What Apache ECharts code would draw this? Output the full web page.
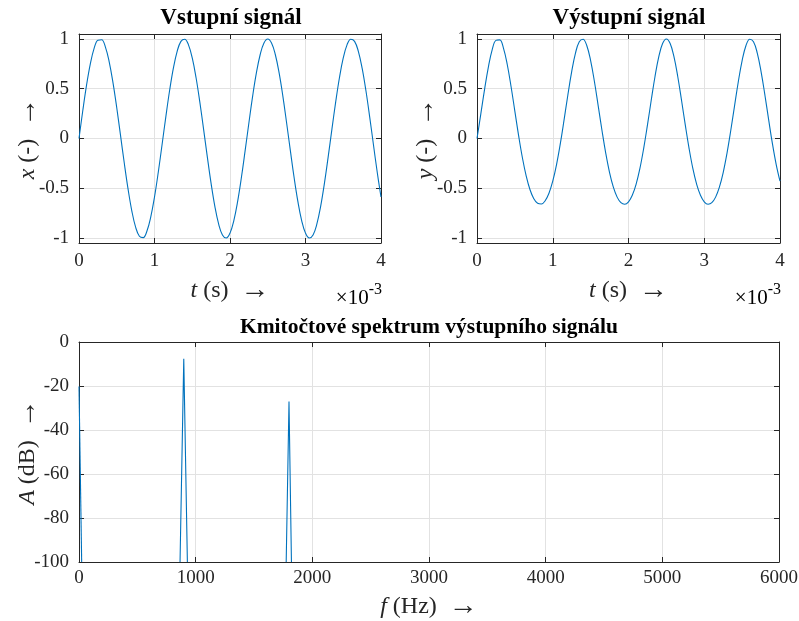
<!DOCTYPE html>
<html>
<head>
<meta charset="utf-8">
<script src="https://cdn.jsdelivr.net/npm/echarts@6/dist/echarts.min.js"></script>
<style>html,body{margin:0;padding:0;background:#fff}#c{width:799px;height:621px}</style>
</head>
<body>
<div id="c"></div>
<script>
// time samples (ms; axis shows s with ×10^-3 exponent)
const timeMs = [0,0.05,0.1,0.15,0.2,0.25,0.3,0.35,0.4,0.45,0.5,0.55,0.6,0.65,0.7,0.75,0.8,0.85,0.9,0.95,
1,1.05,1.1,1.15,1.2,1.25,1.3,1.35,1.4,1.45,1.5,1.55,1.6,1.65,1.7,1.75,1.8,1.85,1.9,1.95,
2,2.05,2.1,2.15,2.2,2.25,2.3,2.35,2.4,2.45,2.5,2.55,2.6,2.65,2.7,2.75,2.8,2.85,2.9,2.95,
3,3.05,3.1,3.15,3.2,3.25,3.3,3.35,3.4,3.45,3.5,3.55,3.6,3.65,3.7,3.75,3.8,3.85,3.9,3.95,4];
// input signal x(t)
const inputX = [0,0.279,0.536,0.750,0.905,0.988,0.992,0.918,0.771,0.562,0.309,0.031,-0.249,-0.509,-0.729,-0.891,-0.982,-0.996,-0.930,-0.790,
-0.588,-0.339,-0.063,0.218,0.482,0.707,0.876,0.976,0.998,0.941,0.809,0.613,0.368,0.094,-0.187,-0.454,-0.685,-0.861,-0.969,-1.000,
-0.951,-0.827,-0.637,-0.397,-0.125,0.156,0.426,0.661,0.844,0.960,1.000,0.960,0.844,0.661,0.426,0.156,-0.125,-0.397,-0.637,-0.827,
-0.951,-1.000,-0.969,-0.861,-0.685,-0.454,-0.187,0.094,0.368,0.613,0.809,0.941,0.998,0.976,0.876,0.707,0.482,0.218,-0.063,-0.339,-0.588];
// output signal y(t)
const outputY = [0,0.245,0.494,0.718,0.890,0.986,0.991,0.905,0.741,0.520,0.273,0.026,-0.196,-0.378,-0.515,-0.605,-0.651,-0.658,-0.625,-0.550,
-0.429,-0.262,-0.052,0.189,0.440,0.672,0.858,0.972,0.998,0.932,0.783,0.573,0.328,0.080,-0.149,-0.342,-0.489,-0.589,-0.645,-0.660,
-0.636,-0.570,-0.460,-0.303,-0.101,0.134,0.384,0.623,0.822,0.954,1.000,0.954,0.822,0.623,0.384,0.134,-0.101,-0.303,-0.460,-0.570,
-0.636,-0.660,-0.645,-0.589,-0.489,-0.342,-0.149,0.080,0.328,0.573,0.783,0.932,0.998,0.972,0.858,0.672,0.440,0.189,-0.052,-0.262,-0.429];
// spectrum (visible parts above the -100 dB floor)
const specDCf = [0, 23];        const specDCa = [-20.2, -100];
const specH1f = [866, 898, 929]; const specH1a = [-100, -7.6, -100];
const specH2f = [1776, 1800, 1821]; const specH2a = [-100, -27.1, -100];
// tick labels
const timeTicks = [0,1,2,3,4];
const sigTicks = [-1,-0.5,0,0.5,1];
const freqTicks = [0,1000,2000,3000,4000,5000,6000];
const dbTicks = [-100,-80,-60,-40,-20,0];

const FONT = 'Liberation Serif';
const AX = '#262626';
const GRIDC = '#e2e2e2';
const LINEC = '#0072BD';
const zip = (a,b) => a.map((v,i)=>[v,b[i]]);

const grids = [
  {left:79, top:34, width:302, height:209},
  {left:477, top:34, width:303, height:209},
  {left:79, top:342, width:700, height:220}
];

const axLine = {show:true, onZero:false, lineStyle:{color:AX, width:1}};
const axTick = {show:true, inside:true, length:5, lineStyle:{color:AX}};
const nameStyle = {color:AX, fontFamily:FONT, fontSize:24, rich:{
  i:{fontStyle:'italic', fontFamily:FONT, fontSize:24, color:AX},
  r:{fontFamily:FONT, fontSize:29, color:AX}}};

function mainX(gi, min, max, interval, name, gap, fmt, margin){
  return {type:'value', gridIndex:gi, position:'bottom', min, max, interval,
    axisLine:axLine, axisTick:axTick,
    axisLabel:{color:AX, fontFamily:FONT, fontSize:19, margin, formatter:fmt},
    splitLine:{show:true, lineStyle:{color:GRIDC, width:1}},
    name, nameLocation:'middle', nameGap:gap, nameTextStyle:nameStyle};
}
function mirrorX(gi, min, max, interval){
  return {type:'value', gridIndex:gi, position:'top', min, max, interval,
    axisLine:axLine, axisTick:axTick, axisLabel:{show:false}, splitLine:{show:false}};
}
function mainY(gi, min, max, interval, name, gap, fmt){
  const o = {type:'value', gridIndex:gi, position:'left', min, max,
    axisLine:axLine, axisTick:axTick,
    axisLabel:{color:AX, fontFamily:FONT, fontSize:19, margin:10, formatter: fmt},
    splitLine:{show:true, lineStyle:{color:GRIDC, width:1}},
    name, nameLocation:'middle', nameGap:gap, nameRotate:90, nameMoveOverlap:false, nameTextStyle:nameStyle};
  if (interval) o.interval = interval; else o.splitNumber = 4;
  return o;
}
function mirrorY(gi, min, max, interval){
  const o = {type:'value', gridIndex:gi, position:'right', min, max,
    axisLine:axLine, axisTick:axTick, axisLabel:{show:false}, splitLine:{show:false}};
  if (interval) o.interval = interval; else o.splitNumber = 4;
  return o;
}
const sigFmt = v => sigTicks.some(t => Math.abs(t - v) < 1e-9) ? String(v) : '';
const dbFmt = v => dbTicks.includes(v) ? String(v) : '';
const tFmt = v => timeTicks.includes(v) ? String(v) : '';
const fFmt = v => freqTicks.includes(v) ? String(v) : '';

const expRich = {a:{fontFamily:FONT, fontSize:21, color:AX, lineHeight:27, verticalAlign:'bottom'},
                 b:{fontFamily:FONT, fontSize:16, color:AX, lineHeight:27, verticalAlign:'top'}};

const option = {
  animation:false,
  backgroundColor:'#fff',
  grid: grids.map(g => Object.assign({containLabel:false, outerBoundsMode:'none', show:false}, g)),
  xAxis: [
    mainX(0,0,4,1,'{i|t} (s)  {r|→}',33,tFmt,9),
    mirrorX(0,0,4,1),
    mainX(1,0,4,1,'{i|t} (s)  {r|→}',33,tFmt,9),
    mirrorX(1,0,4,1),
    mainX(2,0,6000,1000,'{i|f} (Hz)  {r|→}',30,fFmt,7),
    mirrorX(2,0,6000,1000)
  ],
  yAxis: [
    mainY(0,-1.05,1.05,null,'{i|x} (-)  {r|→}',37,sigFmt),
    mirrorY(0,-1.05,1.05,null),
    mainY(1,-1.05,1.05,null,'{i|y} (-)  {r|→}',37,sigFmt),
    mirrorY(1,-1.05,1.05,null),
    mainY(2,-100,0,20,'{i|A} (dB)  {r|→}',37,dbFmt),
    mirrorY(2,-100,0,20)
  ],
  series: [
    {type:'line', xAxisIndex:0, yAxisIndex:0, data:zip(timeMs,inputX), smooth:0.4, showSymbol:false, lineStyle:{color:LINEC,width:1.1}, clip:true},
    {type:'line', xAxisIndex:2, yAxisIndex:2, data:zip(timeMs,outputY), smooth:0.4, showSymbol:false, lineStyle:{color:LINEC,width:1.1}, clip:true},
    {type:'line', xAxisIndex:4, yAxisIndex:4, data:zip(specDCf,specDCa), showSymbol:false, lineStyle:{color:LINEC,width:1.1}, clip:true},
    {type:'line', xAxisIndex:4, yAxisIndex:4, data:zip(specH1f,specH1a), showSymbol:false, lineStyle:{color:LINEC,width:1.1}, clip:true},
    {type:'line', xAxisIndex:4, yAxisIndex:4, data:zip(specH2f,specH2a), showSymbol:false, lineStyle:{color:LINEC,width:1.1}, clip:true}
  ],
  graphic: [
    {type:'text', x:231, y:18, style:{text:'Vstupní signál', font:'bold 23px "Liberation Serif"', fill:'#000', align:'center', verticalAlign:'middle'}},
    {type:'text', x:629, y:18, style:{text:'Výstupní signál', font:'bold 23px "Liberation Serif"', fill:'#000', align:'center', verticalAlign:'middle'}},
    {type:'text', x:429, y:327, style:{text:'Kmitočtové spektrum výstupního signálu', font:'bold 21.5px "Liberation Serif"', fill:'#000', align:'center', verticalAlign:'middle'}},
    {type:'text', x:382, y:295, style:{text:'{a|×10}{b|-3}', align:'right', verticalAlign:'middle', rich:expRich}},
    {type:'text', x:781, y:295, style:{text:'{a|×10}{b|-3}', align:'right', verticalAlign:'middle', rich:expRich}}
  ]
};
const chart = echarts.init(document.getElementById('c'), null, {renderer:'canvas'});
chart.setOption(option);
</script>
</body>
</html>
